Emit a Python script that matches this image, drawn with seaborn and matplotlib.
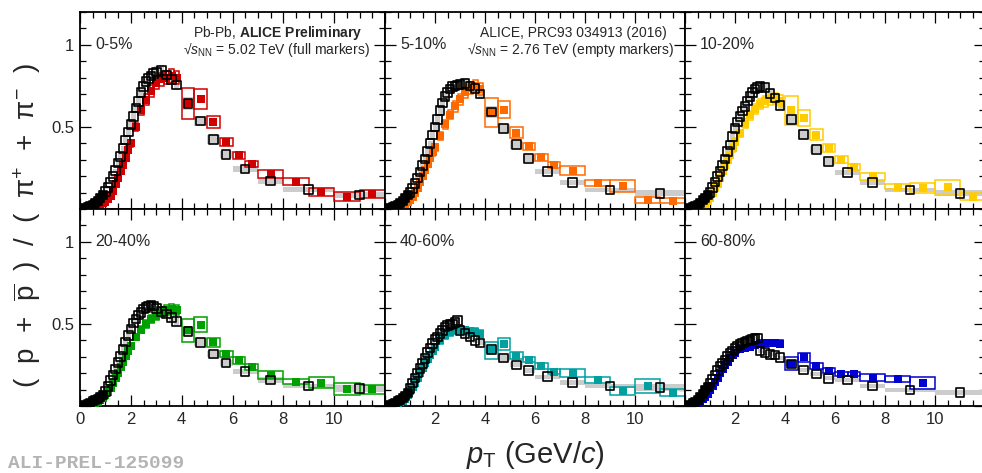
import numpy as np
import matplotlib.pyplot as plt
import matplotlib.ticker as ticker
import seaborn as sns

# pT bins (GeV/c) and bin half widths
pt_276 = [0.2, 0.3, 0.4, 0.5, 0.6, 0.7, 0.8, 0.9,
          1.0, 1.1, 1.2, 1.3, 1.4, 1.5, 1.6, 1.7, 1.8, 1.9,
          2.0, 2.1, 2.2, 2.3, 2.4, 2.5, 2.6, 2.7, 2.8, 2.9, 3.0,
          3.2, 3.4, 3.6, 3.8,
          4.25, 4.75, 5.25, 5.75, 6.5, 7.5, 9.0, 11.0]
hw_276 = [0.1] * 33 + [0.25, 0.25, 0.25, 0.25, 0.5, 0.5, 1.0, 1.0]
pt_502 = [0.3, 0.4, 0.5, 0.6, 0.7, 0.8, 0.9,
          1.0, 1.1, 1.2, 1.3, 1.4, 1.5, 1.6, 1.7, 1.8, 1.9,
          2.0, 2.2, 2.4, 2.6, 2.8, 3.0, 3.2, 3.4, 3.6, 3.8,
          4.25, 4.75, 5.25, 5.75, 6.25, 6.75, 7.5, 8.5, 9.5, 10.5, 11.5]
hw_502 = [0.1] * 27 + [0.25] * 6 + [0.5] * 5

# relative systematic uncertainties
sys_276 = [0.04] * 33 + [0.06, 0.06, 0.06, 0.07, 0.07, 0.10, 0.12, 0.20]
sys_502 = [0.06] * 17 + [0.05] * 10 + [0.15, 0.09, 0.07, 0.06, 0.07, 0.07,
                                      0.12, 0.12, 0.25, 0.35, 0.28]

# (p+pbar)/(pi+ + pi-) ratios, 2.76 TeV (empty) and 5.02 TeV (full)
r276_00_05 = [0.004, 0.010, 0.018, 0.027, 0.037, 0.050, 0.065, 0.083,
              0.108, 0.130, 0.160, 0.198, 0.235, 0.280, 0.320, 0.370, 0.420, 0.470,
              0.515, 0.565, 0.615, 0.655, 0.710, 0.745, 0.775, 0.795, 0.810, 0.825, 0.835,
              0.845, 0.815, 0.790, 0.755,
              0.643, 0.535, 0.423, 0.331, 0.243, 0.171, 0.120, 0.086]
r502_00_05 = [0.003, 0.006, 0.010, 0.014, 0.020, 0.028, 0.037,
              0.045, 0.060, 0.080, 0.110, 0.150, 0.190, 0.230, 0.270, 0.310, 0.360,
              0.400, 0.500, 0.600, 0.665, 0.720, 0.770, 0.790, 0.800, 0.810, 0.800,
              0.643, 0.670, 0.528, 0.408, 0.326, 0.276, 0.214, 0.167, 0.102, 0.075, 0.090]

r276_05_10 = [0.004, 0.010, 0.018, 0.027, 0.037, 0.050, 0.065, 0.083,
              0.100, 0.125, 0.155, 0.190, 0.225, 0.265, 0.305, 0.350, 0.400, 0.450,
              0.500, 0.545, 0.600, 0.645, 0.685, 0.710, 0.730, 0.745, 0.750, 0.755, 0.760,
              0.765, 0.750, 0.735, 0.700,
              0.592, 0.490, 0.392, 0.306, 0.229, 0.161, 0.116, 0.096]
r502_05_10 = [0.003, 0.006, 0.010, 0.015, 0.021, 0.030, 0.042,
              0.055, 0.075, 0.100, 0.130, 0.165, 0.200, 0.240, 0.275, 0.310, 0.345,
              0.375, 0.445, 0.515, 0.575, 0.625, 0.670, 0.710, 0.735, 0.750, 0.730,
              0.590, 0.606, 0.464, 0.382, 0.315, 0.270, 0.233, 0.157, 0.141, 0.055, 0.051]

r276_10_20 = [0.004, 0.010, 0.018, 0.027, 0.038, 0.052, 0.068, 0.085,
              0.100, 0.130, 0.165, 0.198, 0.230, 0.265, 0.305, 0.350, 0.390, 0.440,
              0.490, 0.530, 0.565, 0.596, 0.625, 0.657, 0.685, 0.710, 0.730, 0.740, 0.745,
              0.740, 0.705, 0.675, 0.630,
              0.545, 0.453, 0.361, 0.289, 0.222, 0.163, 0.116, 0.096]
r502_10_20 = [0.003, 0.006, 0.010, 0.015, 0.022, 0.031, 0.050,
              0.070, 0.095, 0.125, 0.155, 0.190, 0.230, 0.265, 0.300, 0.330, 0.370,
              0.410, 0.460, 0.520, 0.570, 0.610, 0.640, 0.655, 0.670, 0.675, 0.660,
              0.600, 0.555, 0.453, 0.371, 0.300, 0.258, 0.198, 0.137, 0.127, 0.131, 0.075]

r276_20_40 = [0.005, 0.011, 0.019, 0.028, 0.036, 0.045, 0.055, 0.065,
              0.090, 0.120, 0.155, 0.190, 0.225, 0.265, 0.300, 0.345, 0.390, 0.430,
              0.470, 0.505, 0.530, 0.555, 0.570, 0.590, 0.600, 0.610, 0.615, 0.610, 0.595,
              0.575, 0.560, 0.540, 0.515,
              0.455, 0.388, 0.318, 0.261, 0.210, 0.159, 0.122, 0.108]
r502_20_40 = [0.004, 0.008, 0.013, 0.019, 0.027, 0.037, 0.050,
              0.065, 0.085, 0.110, 0.140, 0.170, 0.200, 0.235, 0.270, 0.305, 0.335,
              0.365, 0.420, 0.465, 0.500, 0.530, 0.550, 0.570, 0.585, 0.590, 0.585,
              0.460, 0.496, 0.388, 0.318, 0.278, 0.237, 0.190, 0.149, 0.143, 0.102, 0.102]

r276_40_60 = [0.006, 0.012, 0.020, 0.029, 0.038, 0.048, 0.060, 0.080,
              0.105, 0.140, 0.170, 0.200, 0.230, 0.260, 0.290, 0.325, 0.353, 0.380,
              0.404, 0.420, 0.443, 0.460, 0.480, 0.490, 0.495, 0.500, 0.510, 0.522, 0.460,
              0.440, 0.420, 0.400, 0.385,
              0.343, 0.292, 0.251, 0.216, 0.179, 0.143, 0.122, 0.112]
r502_40_60 = [0.005, 0.010, 0.016, 0.024, 0.033, 0.045, 0.065,
              0.090, 0.115, 0.140, 0.170, 0.200, 0.230, 0.260, 0.285, 0.310, 0.335,
              0.360, 0.400, 0.430, 0.450, 0.460, 0.465, 0.460, 0.455, 0.450, 0.440,
              0.340, 0.378, 0.306, 0.282, 0.245, 0.210, 0.200, 0.159, 0.092, 0.122, 0.082]

r276_60_80 = [0.008, 0.016, 0.026, 0.038, 0.055, 0.075, 0.095, 0.115,
              0.140, 0.165, 0.190, 0.215, 0.240, 0.260, 0.280, 0.300, 0.320, 0.335,
              0.350, 0.365, 0.375, 0.385, 0.390, 0.395, 0.400, 0.405, 0.410, 0.414, 0.335,
              0.325, 0.315, 0.310, 0.295,
              0.257, 0.220, 0.194, 0.169, 0.159, 0.122, 0.098, 0.083]
r502_60_80 = [0.006, 0.012, 0.020, 0.030, 0.042, 0.057, 0.075,
              0.095, 0.120, 0.145, 0.170, 0.200, 0.225, 0.250, 0.270, 0.290, 0.310,
              0.325, 0.345, 0.355, 0.360, 0.370, 0.380, 0.385, 0.385, 0.385, 0.380,
              0.257, 0.296, 0.245, 0.216, 0.196, 0.194, 0.173, 0.163, 0.139, np.nan, np.nan]

cent_labels = ['0-5%', '5-10%', '10-20%', '20-40%', '40-60%', '60-80%']
cent_colors = ['#d00000', '#ff6a00', '#ffcc00', '#00a000', '#00a0a0', '#0000d0']
ratios_276 = [r276_00_05, r276_05_10, r276_10_20, r276_20_40, r276_40_60, r276_60_80]
ratios_502 = [r502_00_05, r502_05_10, r502_10_20, r502_20_40, r502_40_60, r502_60_80]

sns.set_style('ticks')
plt.rcParams['font.family'] = ['Liberation Sans', 'DejaVu Sans']
plt.rcParams['mathtext.fontset'] = 'custom'
plt.rcParams['mathtext.rm'] = 'Liberation Sans'
plt.rcParams['mathtext.it'] = 'Liberation Sans:italic'
plt.rcParams['mathtext.bf'] = 'Liberation Sans:bold'

fig = plt.figure(figsize=(9.82, 4.73), dpi=100)
gs = fig.add_gridspec(2, 3, left=80 / 982, right=985 / 982,
                      top=1 - 12 / 473, bottom=1 - 406 / 473,
                      wspace=0, hspace=0, width_ratios=[305, 300, 300])

x276 = np.array(pt_276)
x502 = np.array(pt_502)
low = x276 < 1.0
for i in range(6):
    row, col = divmod(i, 3)
    ax = fig.add_subplot(gs[row, col])
    color = cent_colors[i]
    y276 = np.array(ratios_276[i])
    y502 = np.array(ratios_502[i])
    e276 = y276 * np.array(sys_276)
    e502 = y502 * np.array(sys_502)
    ok = ~np.isnan(y502)

    # systematic boxes
    ax.bar(x276, 2 * e276, width=2 * np.array(hw_276), bottom=y276 - e276,
           color='#cccccc', linewidth=0, zorder=1)
    ax.bar(x502[ok], 2 * e502[ok], width=2 * np.array(hw_502)[ok],
           bottom=(y502 - e502)[ok], fill=False, edgecolor=color,
           linewidth=1.1, zorder=2)
    # points
    sns.scatterplot(x=x502, y=y502, marker='s', s=30, color=color,
                    edgecolor=color, linewidth=0, zorder=3, ax=ax)
    sns.scatterplot(x=x276[~low], y=y276[~low], marker='s', s=38,
                    color='black', facecolors='none', edgecolor='black',
                    linewidth=1.2, zorder=4, ax=ax)
    # dense low-pT points merge into a solid band
    sns.scatterplot(x=x276[low], y=y276[low], marker='s', s=38,
                    color='black', edgecolor='black', linewidth=1.2,
                    zorder=4, ax=ax)

    ax.set_xlim(0, 12)
    ax.set_ylim(0, 1.2)
    for side in ['left', 'right', 'top', 'bottom']:
        ax.spines[side].set_linewidth(1.3)
        ax.spines[side].set_color('black')
    ax.xaxis.set_major_locator(ticker.FixedLocator([0, 2, 4, 6, 8, 10]))
    ax.xaxis.set_minor_locator(ticker.MultipleLocator(0.5))
    ax.yaxis.set_major_locator(ticker.FixedLocator([0, 0.5, 1.0]))
    ax.yaxis.set_minor_locator(ticker.MultipleLocator(0.1))
    ax.tick_params(which='both', direction='in', top=True, right=True,
                   width=0.9, color='black', labelsize=12, pad=4)
    ax.tick_params(which='major', length=8)
    ax.tick_params(which='minor', length=4)
    if col == 0:
        ax.set_yticklabels(['', '0.5', '1'])
    else:
        ax.set_yticklabels([])
    if row == 1:
        first = '0' if col == 0 else ''
        ax.set_xticklabels([first, '2', '4', '6', '8', '10'])
    else:
        ax.set_xticklabels([])
    ax.set_xlabel('')
    ax.set_ylabel('')
    ax.text(0.6, 1.0, cent_labels[i], fontsize=11.5, va='center', ha='left')

    if i == 0:
        ax.text(0.925, 0.893, r'Pb-Pb, $\mathbf{ALICE\ Preliminary}$',
                transform=ax.transAxes, ha='right', va='center', fontsize=10)
        ax.text(0.951, 0.807,
                '\u221a$s_{\\mathrm{NN}}$ = 5.02 TeV (full markers)',
                transform=ax.transAxes, ha='right', va='center', fontsize=10)
    if i == 1:
        ax.text(0.94, 0.893, 'ALICE, PRC93 034913 (2016)',
                transform=ax.transAxes, ha='right', va='center', fontsize=10)
        ax.text(0.963, 0.807,
                '\u221a$s_{\\mathrm{NN}}$ = 2.76 TeV (empty markers)',
                transform=ax.transAxes, ha='right', va='center', fontsize=10)

fig.text(0.545, 1 - 455 / 473, r'$p_{\mathrm{T}}$ (GeV/$c$)', fontsize=21,
         ha='center', va='center')
fig.text(0.0275, 0.524,
         '(  p  +  $\\overline{\\mathrm{p}}$  )  /  (  \u03c0$^{+}$  +  \u03c0$^{-}$  )',
         fontsize=20, rotation=90, ha='center', va='center')
fig.text(8 / 982, 1 - 463 / 473, 'ALI-PREL-125099', family='Liberation Mono',
         weight='bold', fontsize=14, color='#b4b4b4', ha='left', va='center')

fig.savefig('out.png', dpi=100)
plt.close('all')
